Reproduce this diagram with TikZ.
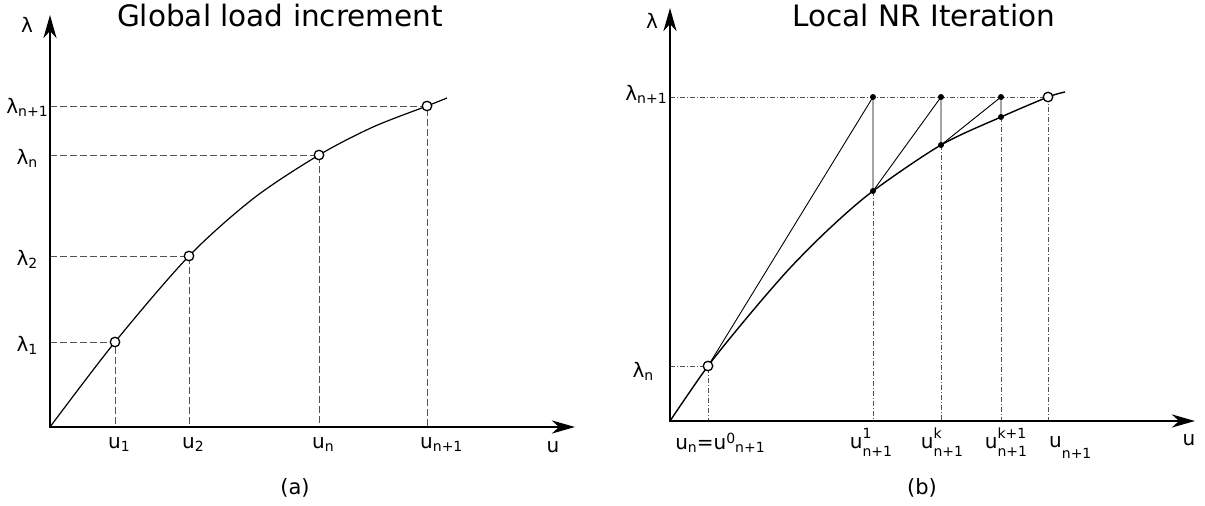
\documentclass[tikz,border=0pt]{standalone}
\usepackage{fontspec}
\setmainfont{DejaVu Sans}
\usetikzlibrary{arrows.meta}
\newcommand{\sbx}[1]{\raisebox{-3pt}{\fontsize{14}{14}\selectfont #1}}
\newcommand{\spx}[1]{\raisebox{6pt}{\fontsize{14}{14}\selectfont #1}}
\newcommand{\stk}[2]{\rlap{\raisebox{10pt}{\fontsize{14}{14}\selectfont #1}}\raisebox{-8pt}{\fontsize{14}{14}\selectfont #2}}
\newcommand{\lowsub}[1]{\raisebox{-11pt}{\fontsize{14}{14}\selectfont #1}}
\begin{document}
\begin{tikzpicture}[x=1pt,y=-1pt,
  axistip/.tip={Stealth[length=23pt,width=13pt,inset=7pt]},
  axis/.style={line width=2.9pt,line join=miter,axistip-axistip},
  guide/.style={draw=black!68,line width=0.9pt,dash pattern=on 7pt off 3pt},
  guideb/.style={draw=black!68,line width=0.9pt,dash pattern=on 5pt off 2pt on 1pt off 2pt},
  curvea/.style={line width=1.2pt},
  curveb/.style={line width=1.4pt},
  nr/.style={line width=0.9pt},
  lab/.style={font=\fontsize{20}{20}\selectfont,inner sep=0pt},
  ttl/.style={font=\fontsize{29.5}{30}\selectfont,inner sep=0pt},
  captext/.style={font=\fontsize{21}{21}\selectfont,inner sep=0pt},
  opendot/.style={circle,draw,fill=white,inner sep=0pt,minimum size=9.5pt,line width=1.3pt},
  dot/.style={circle,fill=black,inner sep=0pt,minimum size=6pt}]
\useasboundingbox (0,0) rectangle (1205,506);

% ---------------- panel (a) ----------------
\coordinate (oa) at (50,427);
\coordinate (ya) at (50,15);
\coordinate (xa) at (575,427);
\coordinate (pa1) at (115,342);
\coordinate (pa2) at (189,256);
\coordinate (pan) at (319,155);
\coordinate (pan1) at (427,106);
\coordinate (ea) at (447,98);
\coordinate (ma) at (254,198);
\coordinate (mb) at (373,127);
\coordinate (ha1) at (50,342);
\coordinate (ha2) at (50,256);
\coordinate (han) at (50,155);
\coordinate (han1) at (50,106);
\coordinate (va1) at (115,427);
\coordinate (va2) at (189,427);
\coordinate (van) at (319,427);
\coordinate (van1) at (427,427);

\draw[guide] (ha1) -- (pa1) -- (va1);
\draw[guide] (ha2) -- (pa2) -- (va2);
\draw[guide] (han) -- (pan) -- (van);
\draw[guide] (han1) -- (pan1) -- (van1);
\draw[curvea] plot[smooth,tension=0.5] coordinates {(oa) (pa1) (pa2) (ma) (pan) (mb) (pan1) (ea)};
\draw[axis] (ya) -- (oa) -- (xa);
\node[opendot] (Pa1) at (pa1) {};
\node[opendot] (Pa2) at (pa2) {};
\node[opendot] (Pan) at (pan) {};
\node[opendot] (Pan1) at (pan1) {};

\node[ttl,anchor=base] (ttla) at (280,27) {Global load increment};
\node[lab] (lya) at (27,25) {λ};
\node[lab,anchor=base] (la1) at (27,351) {λ\sbx{1}};
\node[lab,anchor=base] (la2) at (27,265) {λ\sbx{2}};
\node[lab,anchor=base] (lan) at (27,164) {λ\sbx{n}};
\node[lab,anchor=base] (lan1) at (27,113) {λ\sbx{n+1}};
\node[lab,anchor=base west] (ua1) at (108,448) {u\sbx{1}};
\node[lab,anchor=base west] (ua2) at (182,448) {u\sbx{2}};
\node[lab,anchor=base west] (uan) at (312,448) {u\sbx{n}};
\node[lab,anchor=base west] (uan1) at (420,448) {u\sbx{n+1}};
\node[lab,anchor=base] (lxa) at (553,452) {u};
\node[captext] (capa) at (295,488) {(a)};

% ---------------- panel (b) ----------------
\coordinate (ob) at (670,421);
\coordinate (yb) at (670,8);
\coordinate (xb) at (1195,421);
\coordinate (pbn) at (708,366);
\coordinate (m1) at (750,314);
\coordinate (m2) at (790,268);
\coordinate (m3) at (830,228);
\coordinate (t1) at (873,97);
\coordinate (c1) at (873,191);
\coordinate (tk) at (941,97);
\coordinate (ck) at (941,145);
\coordinate (tk1) at (1001,97);
\coordinate (ck1) at (1001,117);
\coordinate (pbn1) at (1048,97);
\coordinate (eb) at (1065,92);
\coordinate (hbn) at (670,366);
\coordinate (hbn1) at (670,97);
\coordinate (vbn) at (708,421);
\coordinate (vb1) at (873,421);
\coordinate (vbk) at (941,421);
\coordinate (vbk1) at (1001,421);
\coordinate (vbn1) at (1048,421);

\draw[guideb] (hbn1) -- (pbn1);
\draw[guideb] (hbn) -- (pbn) -- (vbn);
\draw[guideb] (c1) -- (vb1);
\draw[guideb] (ck) -- (vbk);
\draw[guideb] (ck1) -- (vbk1);
\draw[guideb] (pbn1) -- (vbn1);
\draw[curveb] plot[smooth,tension=0.5] coordinates {(ob) (pbn) (m1) (m2) (m3) (c1) (ck) (ck1) (pbn1) (eb)};
\draw[nr] (pbn) -- (t1) -- (c1) -- (tk) -- (ck) -- (tk1) -- (ck1);
\draw[axis] (yb) -- (ob) -- (xb);
\node[dot] (T1) at (t1) {};
\node[dot] (C1) at (c1) {};
\node[dot] (Tk) at (tk) {};
\node[dot] (Ck) at (ck) {};
\node[dot] (Tk1) at (tk1) {};
\node[dot] (Ck1) at (ck1) {};
\node[opendot] (Pbn) at (pbn) {};
\node[opendot] (Pbn1) at (pbn1) {};

\node[ttl,anchor=base] (ttlb) at (924,27) {Local NR Iteration};
\node[lab] (lyb) at (652,21) {λ};
\node[lab,anchor=base] (lbn1) at (646,100) {λ\sbx{n+1}};
\node[lab,anchor=base] (lbn) at (643,377) {λ\sbx{n}};
\node[lab,anchor=base] (ub0) at (720,449) {u\sbx{n}=u\spx{0}\sbx{n+1}};
\node[lab,anchor=base] (ub1) at (871,448) {u\stk{1}{n+1}};
\node[lab,anchor=base] (ubk) at (942,448) {u\stk{k}{n+1}};
\node[lab,anchor=base] (ubk1) at (1006,448) {u\stk{k+1}{n+1}};
\node[lab,anchor=base west] (ubn1) at (1049,447) {u\lowsub{n+1}};
\node[lab,anchor=base] (lxb) at (1189,445) {u};
\node[captext] (capb) at (922,488) {(b)};
\end{tikzpicture}
\end{document}
